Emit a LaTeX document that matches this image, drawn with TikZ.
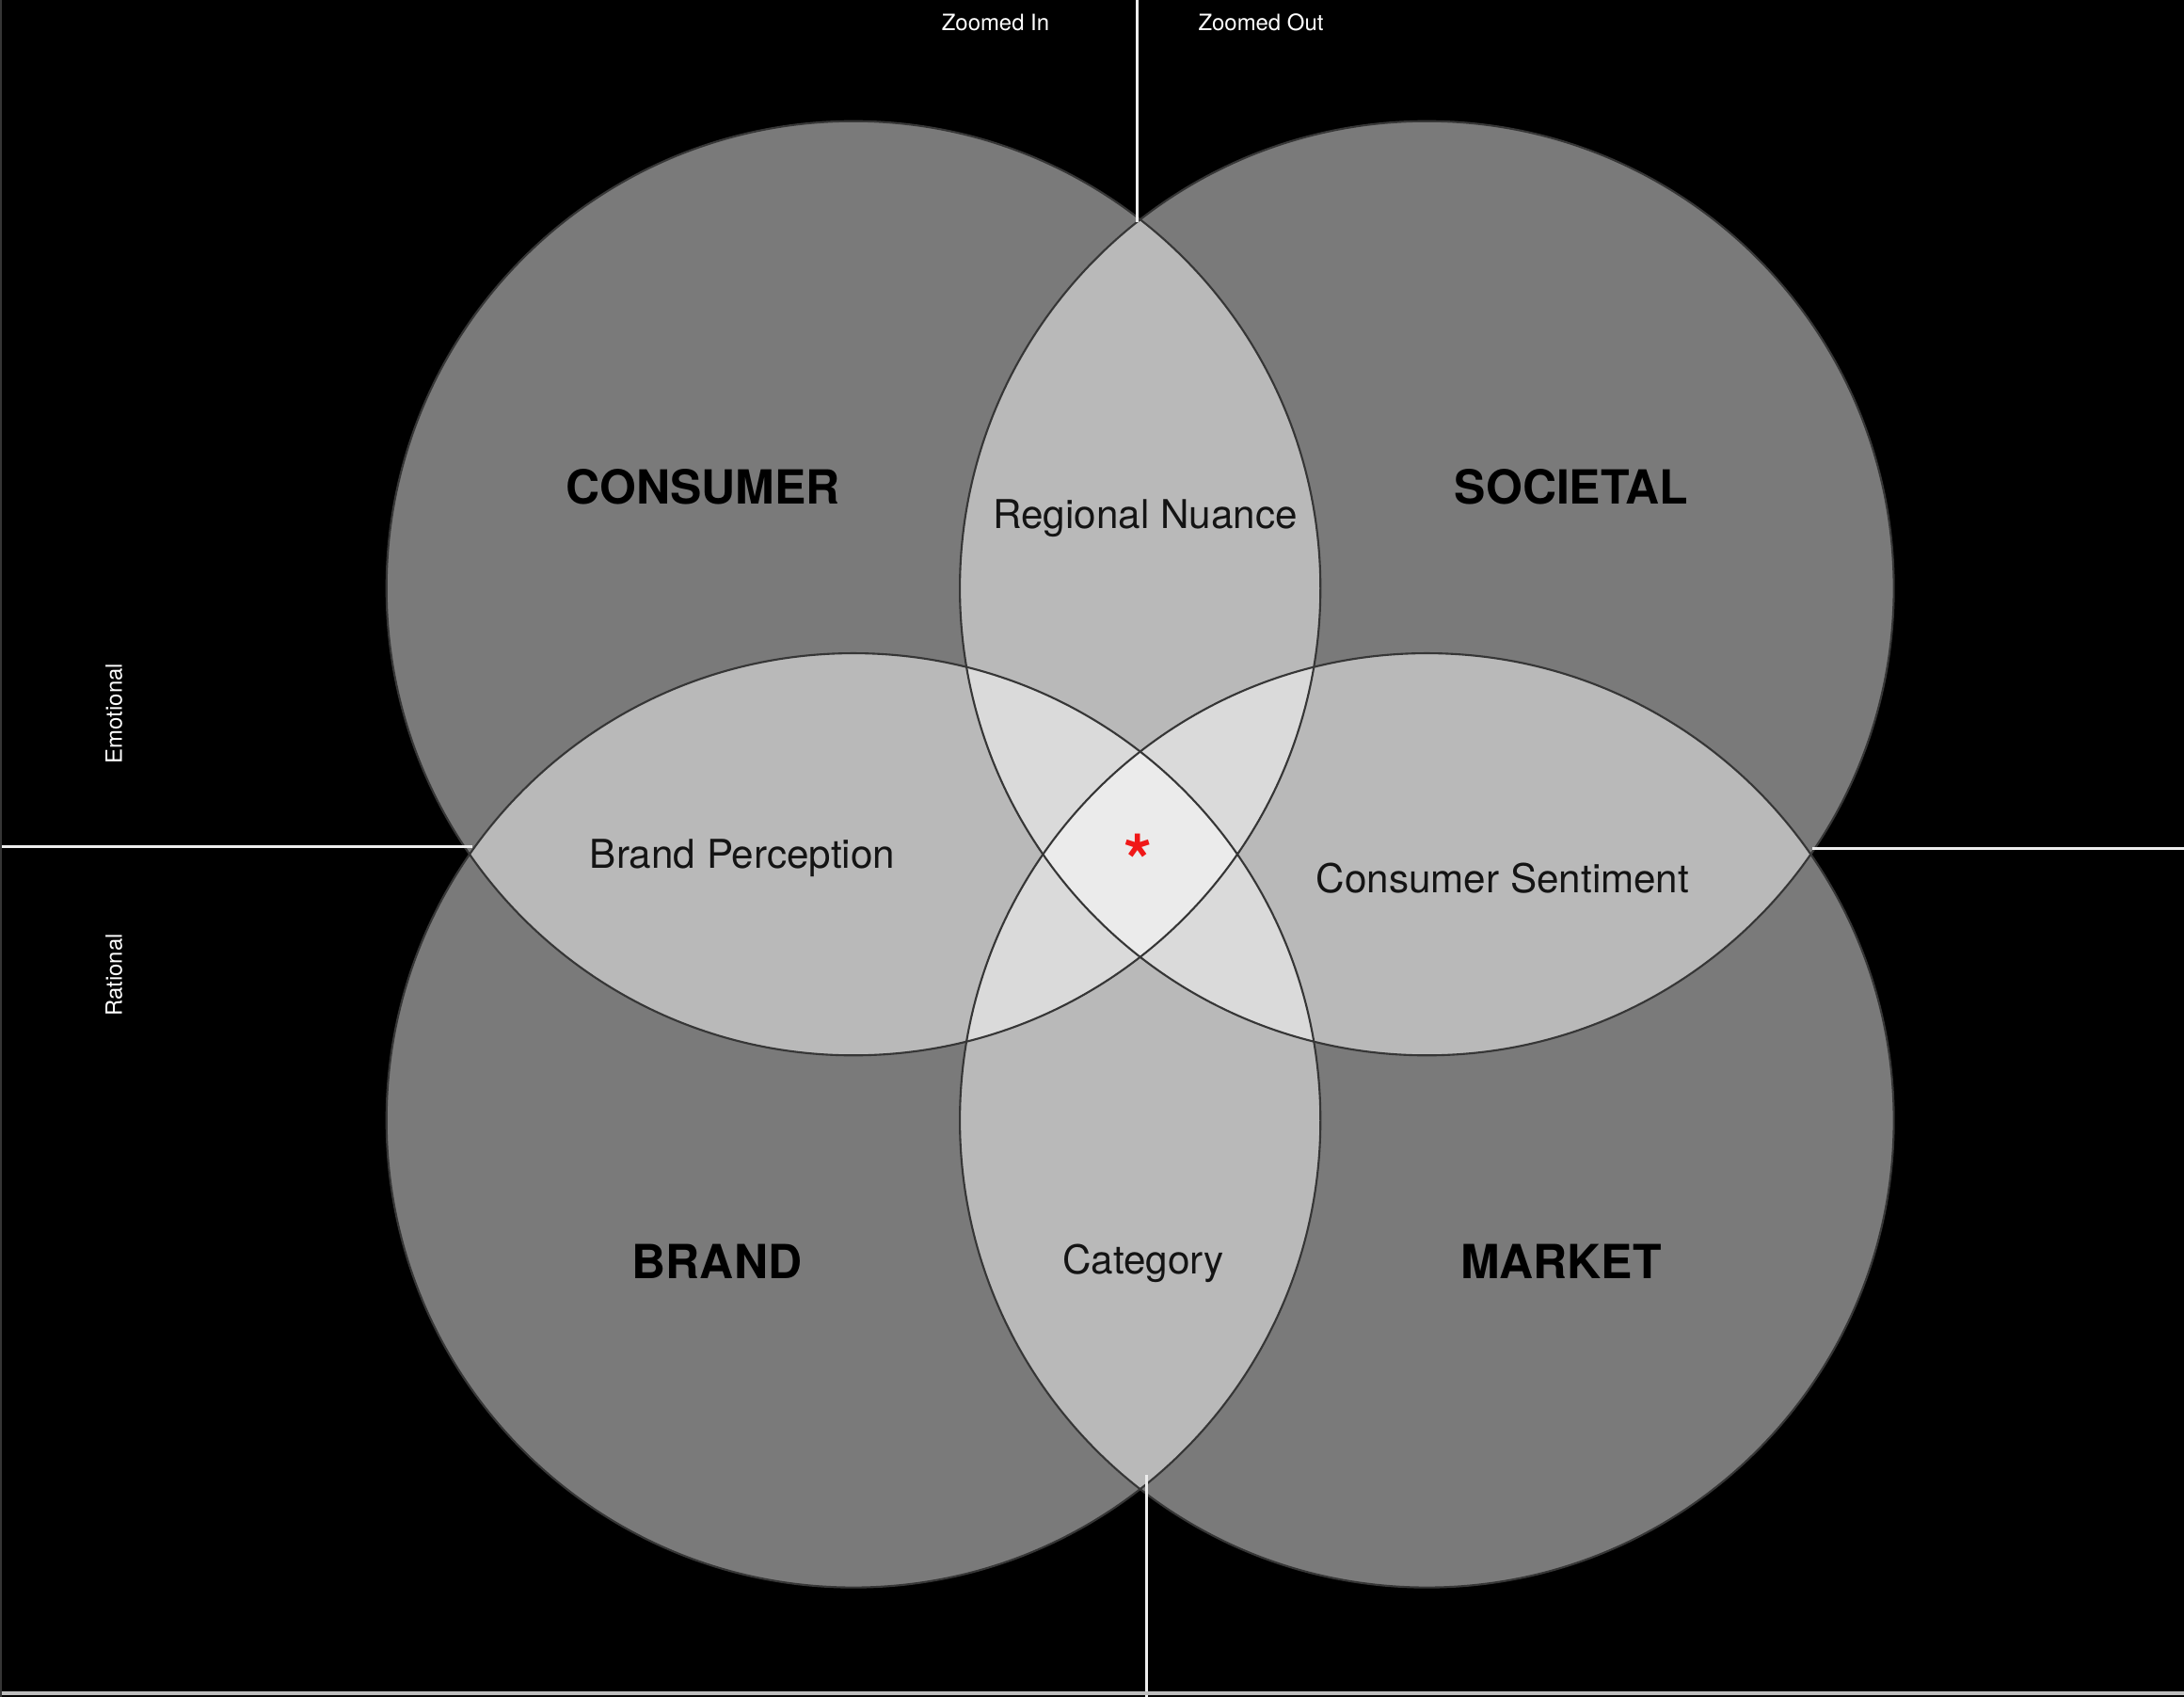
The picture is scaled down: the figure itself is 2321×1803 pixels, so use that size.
\documentclass[tikz,border=0pt]{standalone}
\usepackage{fontspec}
\setmainfont{TeX Gyre Heros}
\usetikzlibrary{positioning}
\definecolor{rimgray}{HTML}{363636}
\definecolor{axiswhite}{HTML}{EDEDED}
\definecolor{starred}{HTML}{F01818}
\definecolor{framegray}{HTML}{BDBDBD}

\begin{document}
\begin{tikzpicture}[x=0.01cm,y=-0.01cm,on grid,node distance=5.65cm and 6.09cm,
	set/.style={circle,minimum size=9.92cm,inner sep=0pt,fill=white,fill opacity=0.478},
	rim/.style={draw=rimgray,line width=0.6pt},
	axis/.style={draw=axiswhite,line width=0.85pt},
	title/.style={font=\fontsize{14.2}{16}\selectfont\bfseries,text=black},
	lens/.style={font=\fontsize{12}{14}\selectfont,text=black!92},
	side/.style={font=\fontsize{6.8}{8}\selectfont,text=white}]
	\fill[black] (0,0) rectangle (2321,1803);
	\useasboundingbox (0,0) rectangle (2321,1803);

	\node[set] (consumer) at (907,625) {};
	\node[set] (societal) [right=of consumer] {};
	\node[set] (brand) [below=of consumer] {};
	\node[set] (market) [right=of brand] {};
	\foreach \s in {consumer,societal,brand,market}
		\draw[rim] (\s.center) circle [radius=4.96cm];

	\coordinate (topedge) at (1208,0);
	\coordinate (topmeet) at (1208,236);
	\coordinate (bottommeet) at (1218,1567);
	\coordinate (bottomedge) at (1218,1803);
	\coordinate (leftedge) at (0,899);
	\coordinate (leftmeet) at (502,899);
	\coordinate (rightmeet) at (1926,901);
	\coordinate (rightedge) at (2321,901);
	\draw[axis] (topedge) -- (topmeet);
	\draw[axis] (bottommeet) -- (bottomedge);
	\draw[axis] (leftedge) -- (leftmeet);
	\draw[axis] (rightmeet) -- (rightedge);

	\node[title] (consumerlabel) at (747,517) {CONSUMER};
	\node[title] (societallabel) at (1670,517) {SOCIETAL};
	\node[title] (brandlabel) at (762,1340) {BRAND};
	\node[title] (marketlabel) at (1659,1340) {MARKET};
	\node[lens] (nuance) at (1217,551) {Regional Nuance};
	\node[lens] (perception) at (789,912) {Brand Perception};
	\node[lens] (sentiment) at (1597,933) {Consumer Sentiment};
	\node[lens] (category) at (1215,1342) {Category};
	\node[anchor=north,inner sep=0pt,text=starred,font=\fontsize{22}{22}\selectfont\bfseries] (focus) at (1210,885) {*};

	\node[side] (zoomin) at (1058,24) {Zoomed In};
	\node[side] (zoomout) at (1340,24) {Zoomed Out};
	\node[side,rotate=90] (emotional) at (121,758) {Emotional};
	\node[side,rotate=90] (rational) at (121,1036) {Rational};

	\draw[framegray,line width=1pt] (0,1799) -- (2321,1799);
	\draw[rimgray,line width=0.6pt] (1,0) -- (1,1803);
\end{tikzpicture}
\end{document}
